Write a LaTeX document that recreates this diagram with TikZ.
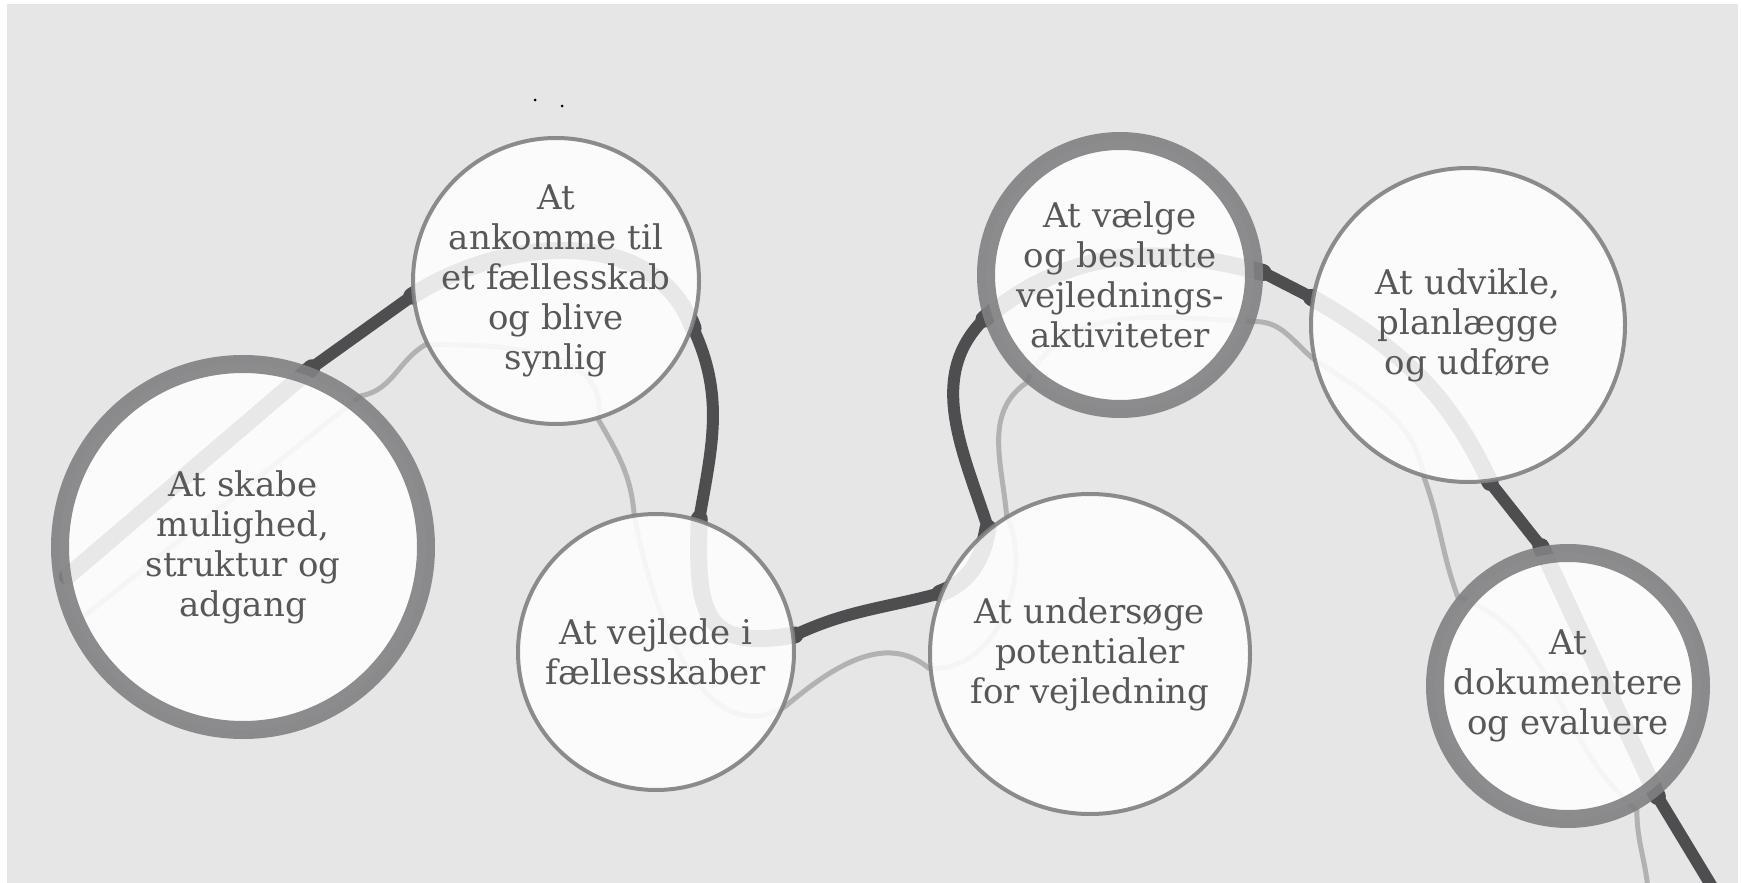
\documentclass[tikz,border=0pt]{standalone}
\usepackage{fontspec}
\setmainfont{DejaVu Serif}
\usepackage{tikz}
\usepackage{xcolor}
\definecolor{ColRing}{RGB}{128,128,131}
\definecolor{ColText}{RGB}{88,88,88}
\definecolor{ColBack}{RGB}{230,230,230}
\definecolor{ColDark}{RGB}{78,78,80}
\definecolor{ColLight}{RGB}{178,178,180}
\pgfdeclarelayer{back}
\pgfdeclarelayer{road}
\pgfsetlayers{back,road,main}
\tikzstyle{NodeStep}=[circle,draw=ColRing,fill=white,fill opacity=0.87,draw opacity=0.9,
text opacity=1,text=ColText,inner sep=-40pt,align=center,font=\fontsize{34pt}{40pt}\selectfont]
\tikzstyle{NodeThick}=[NodeStep,line width=18pt]
\tikzstyle{NodeThin}=[NodeStep,line width=4pt]
\tikzstyle{EdgeDark}=[ColDark,line width=12pt,line cap=round]
\tikzstyle{EdgeLight}=[ColLight,line width=5pt,line cap=round]

\begin{document}
\begin{tikzpicture}[x=1pt,y=-1pt]
        \useasboundingbox(0,0)rectangle(1741,883);
        \node[NodeThick,minimum size=366pt](a)at(243,547){At skabe\\mulighed,\\struktur og\\adgang};
        \node[NodeThin,minimum size=286pt](b)at(556,281){At\\ankomme til\\et fællesskab\\og blive\\synlig};
        \node[NodeThin,minimum size=276pt](c)at(656,652){At vejlede i\\fællesskaber};
        \node[NodeThin,minimum size=320pt](d)at(1090,654){At undersøge\\potentialer\\for vejledning};
        \node[NodeThick,minimum size=268pt](e)at(1120,275){At vælge\\og beslutte\\vejlednings-\\aktiviteter};
        \node[NodeThin,minimum size=314pt](f)at(1468,325){At udvikle,\\planlægge\\og udføre};
        \node[NodeThick,minimum size=266pt](g)at(1568,686){At\\dokumentere\\og evaluere};
        \coordinate(darkend)at(1714,890);
        \coordinate(lightend)at(1648,890);
        \begin{pgfonlayer}{back}
            \fill[white](0,0)rectangle(1741,883);
            \fill[ColBack](7,4)rectangle(1738,883);
            \fill[black](535,100)circle(1.5pt);
            \fill[black](562,106)circle(1.5pt);
        \end{pgfonlayer}
        \begin{pgfonlayer}{road}
            % dark route, parts under the circles
            \draw[EdgeDark,line width=17pt,shorten <=16pt](a.192)--(a.69);
            \draw[EdgeDark,line width=17pt](b.186)to[out=33,in=110](b.-19)
                (c.72)to[out=-92,in=190,looseness=1.6](c.7)
                (d.158)to[out=20,in=-100](d.129)
                (e.198)to[out=40,in=165](e.1)
                (f.170)to[out=-30,in=115](f.-82)
                (g.101)--(g.-51);
            % dark route between the circles
            \draw[EdgeDark](a.69)--(b.186)
                (b.-19)to[out=-65,in=80](c.72)
                (c.7)to[out=25,in=195](d.158)
                (d.129)to[out=108,in=225](e.198)
                (e.1)--(f.170)
                (f.-82)--(g.101)
                (g.-51)--(darkend);
            % light route
            \draw[EdgeLight,shorten <=14pt](a.205)--(a.52)
                to[out=10,in=210](b.206)
                to[out=0,in=80](b.-73)
                to[out=-60,in=95](c.99)
                to[out=-80,in=210](c.-23)
                to[out=40,in=140](d.185)
                to[out=-5,in=-65](d.121)
                to[out=95,in=215](e.229)
                to[out=65,in=178](e.-19)
                to[out=0,in=140](f.192)
                to[out=-35,in=100](f.-106)
                to[out=-70,in=110](g.141)
                to[out=-20,in=140](g.-61)
                to[out=-90,in=95](lightend);
        \end{pgfonlayer}
    \end{tikzpicture}
\end{document}
